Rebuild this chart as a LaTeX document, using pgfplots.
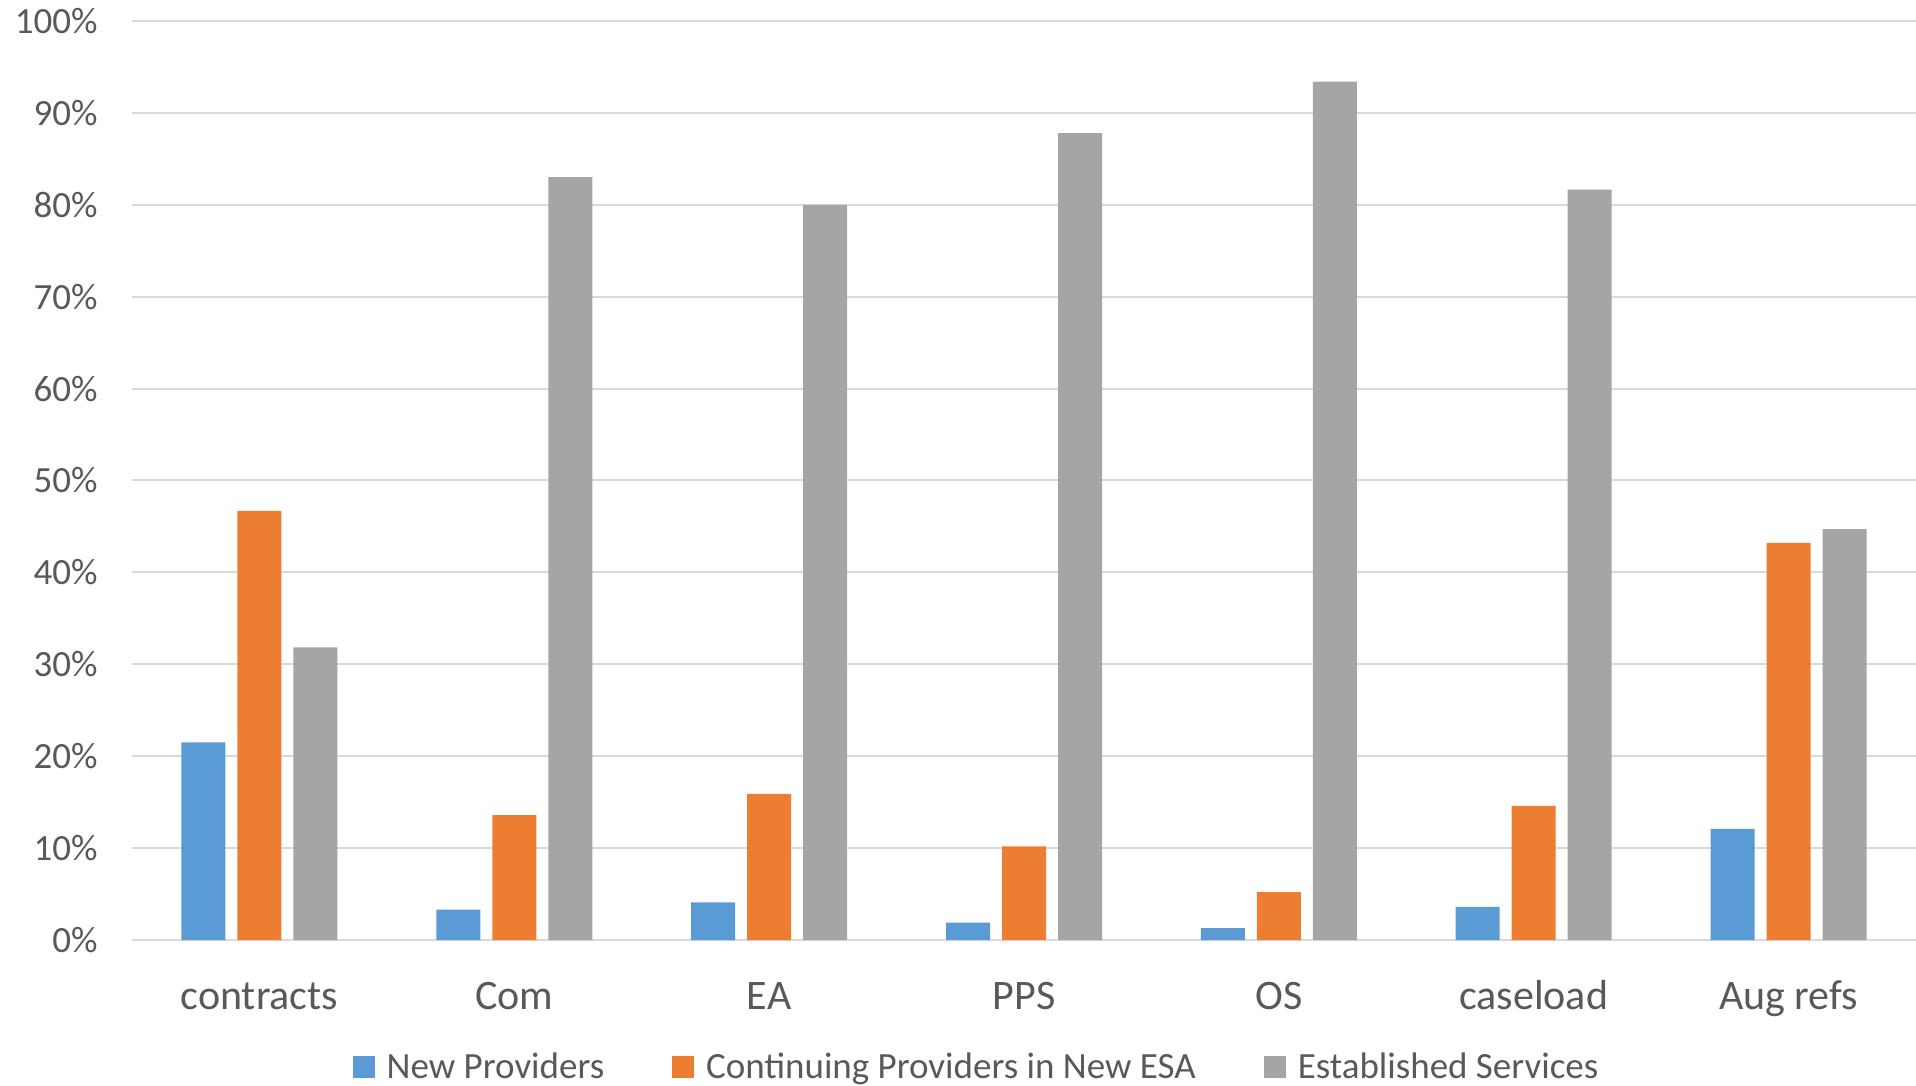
\documentclass[border=0pt]{standalone}
\usepackage{pgfplots}
\pgfplotsset{compat=1.18}
\usepackage{fontspec}
\setmainfont{Carlito}
\definecolor{npblue}{HTML}{5B9BD5}
\definecolor{cporange}{HTML}{ED7D31}
\definecolor{esgray}{HTML}{A5A5A5}
\definecolor{txtgray}{HTML}{595959}
\definecolor{gridgray}{HTML}{D9D9D9}
\begin{document}
\begin{tikzpicture}
\begin{axis}[
  scale only axis,
  width=892pt, height=459.5pt,
  ybar=6pt, bar width=22pt,
  xmin=-0.5, xmax=6.5,
  ymin=0, ymax=100,
  xtick={0,1,2,3,4,5,6},
  xticklabels={contracts,Com,EA,PPS,OS,caseload,Aug refs},
  ytick={0,10,...,100},
  yticklabel={\pgfmathprintnumber{\tick}\%},
  /pgf/number format/assume math mode=true,
  major tick length=0pt,
  axis x line*=bottom,
  axis y line*=left,
  x axis line style={draw=gridgray, line width=1.2pt, -},
  y axis line style={draw=none},
  ymajorgrids=true,
  grid style={draw=gridgray, line width=1pt},
  xticklabel style={anchor=base, yshift=-34.5pt, font=\fontsize{21}{25}\selectfont, text=txtgray},
  yticklabel style={anchor=east, xshift=-17pt, inner sep=0pt, font=\fontsize{18.5}{22}\selectfont, text=txtgray},
  legend style={
    at={(0.474,0)}, anchor=center, yshift=-63.5pt,
    draw=none, fill=none,
    font=\fontsize{18.5}{22}\selectfont, text=txtgray,
    legend columns=-1,
    /tikz/every odd column/.append style={column sep=4pt},
    /tikz/every even column/.append style={column sep=32pt},
  },
  legend image code/.code={\fill[#1] (0pt,-5.5pt) rectangle (11pt,5.5pt);},
]
\addplot[draw=none, fill=npblue] coordinates {
  (0,21.5) (1,3.3) (2,4.1) (3,1.9) (4,1.3) (5,3.6) (6,12.1)
};
\addplot[draw=none, fill=cporange] coordinates {
  (0,46.7) (1,13.6) (2,15.9) (3,10.2) (4,5.2) (5,14.6) (6,43.2)
};
\addplot[draw=none, fill=esgray] coordinates {
  (0,31.85) (1,83.0) (2,80.0) (3,87.8) (4,93.4) (5,81.65) (6,44.7)
};
\legend{New Providers,Continuing Providers in New ESA,Established Services}
\end{axis}
\pgfresetboundingbox
\useasboundingbox (-66pt,-73pt) rectangle (892pt,470pt);
\end{tikzpicture}
\end{document}
